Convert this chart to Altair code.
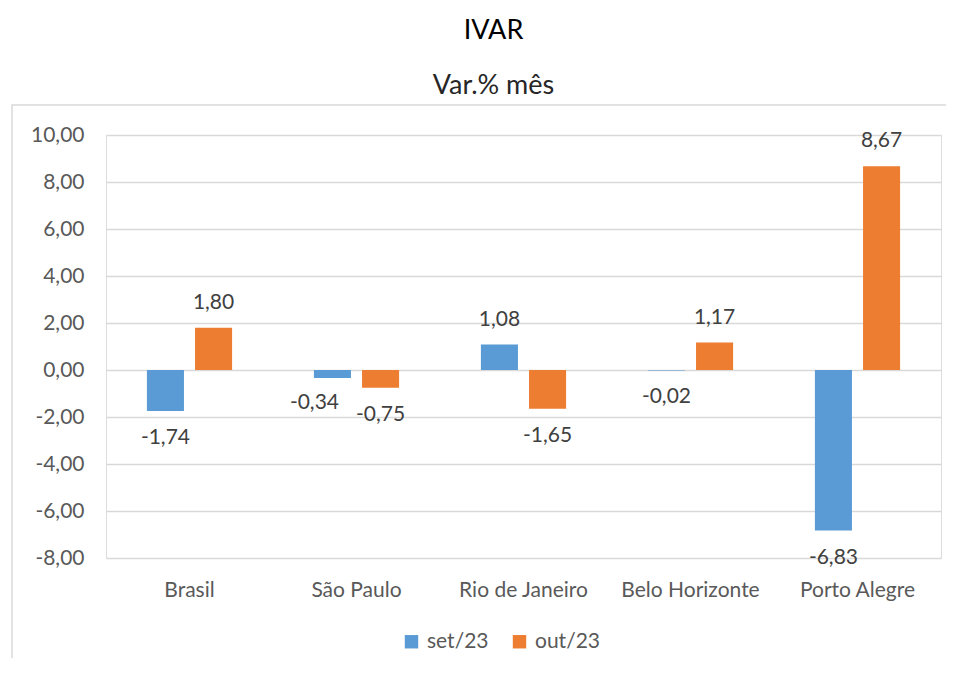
import altair as alt
import pandas as pd

cities = ["Brasil", "São Paulo", "Rio de Janeiro", "Belo Horizonte", "Porto Alegre"]
set23 = [-1.74, -0.34, 1.08, -0.02, -6.83]
out23 = [1.80, -0.75, -1.65, 1.17, 8.67]
series = ["set/23", "out/23"]
colors = ["#5B9BD5", "#ED7D31"]
y_ticks = [-8, -6, -4, -2, 0, 2, 4, 6, 8, 10]

rows = []
for c, a, b in zip(cities, set23, out23):
    rows.append({"cidade": c, "serie": series[0], "valor": a})
    rows.append({"cidade": c, "serie": series[1], "valor": b})
df = pd.DataFrame(rows)

FONT = "Lato"
FS = 21

base = alt.Chart(df).encode(
    x=alt.X("cidade:N", sort=cities,
            scale=alt.Scale(paddingInner=0, paddingOuter=0),
            axis=alt.Axis(title=None, labelAngle=0, domain=False, ticks=False,
                          labelFontSize=FS, labelColor="#595959", labelFont=FONT,
                          labelPadding=21)),
    xOffset=alt.XOffset("serie:N", sort=series,
                        scale=alt.Scale(domain=series, paddingInner=0.23, paddingOuter=0.85)),
    y=alt.Y("valor:Q", scale=alt.Scale(domain=[-8, 10], nice=False, zero=False),
            axis=alt.Axis(title=None, values=y_ticks, format=".2f", domain=False, ticks=False,
                          grid=True, gridColor="#D9D9D9", gridWidth=1.3,
                          labelFontSize=FS, labelColor="#595959", labelFont=FONT,
                          labelPadding=22)),
)

bars = base.mark_bar().encode(
    color=alt.Color("serie:N", sort=series,
                    scale=alt.Scale(domain=series, range=colors),
                    legend=alt.Legend(title=None, orient="none", legendX=295, legendY=496,
                                      direction="horizontal", symbolType="square",
                                      symbolSize=180, symbolStrokeWidth=0,
                                      labelFontSize=FS, labelColor="#595959", labelFont=FONT,
                                      columnPadding=20, labelOffset=5)),
)

crowded = "datum.cidade == 'São Paulo' && datum.serie == 'set/23'"

pos = base.transform_filter("datum.valor >= 0").mark_text(
    baseline="middle", dy=-25, fontSize=FS, color="#404040", font=FONT
).encode(text=alt.Text("valor:Q", format=".2f"))

neg = base.transform_filter(f"datum.valor < 0 && !({crowded})").mark_text(
    baseline="middle", dy=27, fontSize=FS, color="#404040", font=FONT
).encode(text=alt.Text("valor:Q", format=".2f"))

neg_shift = base.transform_filter(crowded).mark_text(
    baseline="middle", dx=-18, dy=25, fontSize=FS, color="#404040", font=FONT
).encode(text=alt.Text("valor:Q", format=".2f"))

frame = alt.Chart(pd.DataFrame({"k": [0]})).mark_rect(
    fillOpacity=0, stroke="#D9D9D9", strokeWidth=1.5
).encode(x=alt.value(-94), x2=alt.value(900), y=alt.value(-30), y2=alt.value(560))

chart = alt.layer(frame, bars, pos, neg, neg_shift).properties(
    width=835, height=423,
    autosize=alt.AutoSizeParams(type="none"),
    padding={"left": 98, "top": 127, "right": 5, "bottom": 100},
    title=alt.TitleParams(text="IVAR", subtitle="Var.% mês", font=FONT, subtitleFont=FONT,
                          fontSize=27, subtitleFontSize=27, fontWeight="normal",
                          color="black", subtitleColor="#262626", anchor="middle",
                          dx=-30, offset=4, subtitlePadding=28),
).configure_view(stroke=None).configure(
    locale=alt.Locale(number=alt.NumberLocale(decimal=",", thousands=".", grouping=[3],
                                              currency=["R$", ""], minus="-"))
)

chart.save("out.html", embed_options={"renderer": "svg", "actions": False})
